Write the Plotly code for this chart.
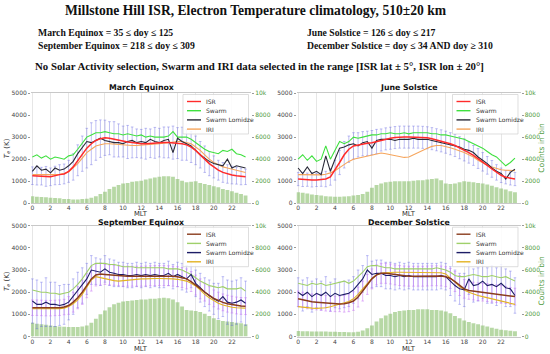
import plotly.graph_objects as go

# MLT bin centres (hours)
mlt = [0.0, 0.5, 1.0, 1.5, 2.0, 2.5, 3.0, 3.5, 4.0, 4.5, 5.0, 5.5, 6.0, 6.5, 7.0, 7.5,
       8.0, 8.5, 9.0, 9.5, 10.0, 10.5, 11.0, 11.5, 12.0, 12.5, 13.0, 13.5, 14.0, 14.5, 15.0, 15.5,
       16.0, 16.5, 17.0, 17.5, 18.0, 18.5, 19.0, 19.5, 20.0, 20.5, 21.0, 21.5, 22.0, 22.5, 23.0, 23.5]

# ---------------- March Equinox ----------------
me_isr = [1250, 1250, 1230, 1220, 1200, 1260, 1300, 1330, 1450, 1650, 1950, 2250, 2500, 2700, 2850, 2930,
          2970, 2950, 2900, 2850, 2800, 2780, 2760, 2720, 2700, 2700, 2720, 2740, 2750, 2760, 2760, 2750,
          2730, 2700, 2650, 2550, 2400, 2200, 2000, 1800, 1650, 1500, 1400, 1330, 1280, 1250, 1220, 1200]
me_swarm = [2100, 2200, 2050, 2150, 2000, 2100, 2050, 2000, 2150, 2200, 2450, 2700, 3000, 3100, 3200, 3200,
            3250, 3200, 3150, 3150, 3100, 3150, 3100, 3050, 3100, 3000, 3050, 3000, 3000, 3000, 3050, 3250,
            3000, 3000, 3000, 2900, 2750, 2600, 2450, 2350, 2300, 2250, 2400, 2350, 2450, 2250, 2200, 2100]
me_lom = [1450, 1700, 1500, 1550, 1380, 1600, 1500, 1550, 1700, 1900, 2250, 2500, 2800, 2750, 2850, 2950,
          2850, 2800, 2750, 2750, 2700, 2800, 2850, 2750, 2800, 2750, 2900, 2800, 2750, 2850, 2900, 2300,
          2950, 2800, 2700, 2600, 2400, 2200, 2050, 1900, 1800, 1750, 1700, 2000, 1600, 1700, 1650, 1600]
me_iri = [1300, 1300, 1280, 1280, 1280, 1300, 1320, 1350, 1420, 1600, 1800, 2050, 2300, 2450, 2600, 2650,
          2700, 2700, 2680, 2650, 2640, 2630, 2620, 2620, 2630, 2640, 2660, 2680, 2700, 2720, 2750, 2780,
          2800, 2800, 2750, 2700, 2550, 2400, 2200, 2000, 1850, 1750, 1650, 1600, 1550, 1500, 1450, 1400]
me_sd_isr = [400, 420, 400, 450, 400, 420, 450, 450, 500, 600, 700, 800, 900, 950, 900, 850,
             800, 750, 800, 750, 700, 750, 700, 650, 650, 700, 650, 700, 650, 700, 700, 750,
             700, 750, 700, 700, 650, 600, 600, 550, 500, 450, 450, 420, 400, 380, 380, 350]
me_counts = [650, 600, 580, 550, 500, 480, 450, 400, 380, 350, 350, 380, 420, 500, 650, 850,
             1050, 1300, 1500, 1650, 1800, 1850, 1950, 2000, 2050, 2150, 2250, 2350, 2400, 2450, 2450, 2400,
             2200, 2050, 1900, 1950, 2000, 1850, 1750, 1650, 1550, 1450, 1300, 1200, 1100, 950, 850, 700]

# ---------------- June Solstice ----------------
js_isr = [1100, 1080, 1070, 1060, 1060, 1070, 1100, 1200, 1500, 1850, 2200, 2450, 2600, 2650, 2700, 2720,
          2750, 2800, 2870, 2920, 2950, 2980, 3000, 3000, 3000, 3000, 3000, 2990, 2970, 2930, 2880, 2830,
          2770, 2700, 2620, 2520, 2420, 2300, 2170, 2030, 1880, 1720, 1560, 1400, 1270, 1180, 1130, 1100]
js_swarm = [2000, 2200, 1950, 2150, 1900, 2000, 2600, 2000, 2400, 2800, 2700, 2800, 3000, 2950, 3000, 3050,
            3100, 3100, 3150, 3150, 3200, 3150, 3150, 3200, 3150, 3200, 3200, 3200, 3200, 3150, 3150, 3100,
            3100, 3050, 3000, 2950, 2900, 2800, 2700, 2600, 2500, 2350, 2200, 2100, 1900, 1700, 1850, 2050]
js_lom = [1600, 1350, 1650, 1350, 1450, 1300, 2150, 1450, 2000, 2500, 2550, 2650, 2700, 2600, 2750, 2800,
          2500, 2850, 2900, 2900, 2900, 2850, 2900, 2900, 2900, 2950, 2900, 2900, 2900, 2850, 2800, 2750,
          2700, 2650, 2600, 2550, 2450, 2400, 2300, 2100, 1950, 1800, 1600, 1450, 1350, 1100, 1400, 1550]
js_iri = [1300, 1300, 1290, 1280, 1280, 1290, 1320, 1380, 1480, 1620, 1780, 1900, 2000, 2050, 2100, 2150,
          2200, 2250, 2280, 2250, 2200, 2150, 2100, 2080, 2100, 2200, 2300, 2420, 2500, 2580, 2620, 2620,
          2580, 2520, 2450, 2380, 2300, 2200, 2100, 1950, 1820, 1720, 1650, 1580, 1520, 1500, 1480, 1480]
js_sd_isr = [300, 320, 300, 320, 300, 300, 350, 380, 450, 550, 600, 600, 600, 550, 550, 550,
             550, 550, 500, 500, 500, 500, 500, 500, 500, 500, 500, 500, 500, 500, 500, 500,
             500, 500, 500, 500, 500, 480, 450, 450, 420, 400, 380, 350, 330, 300, 300, 300]
js_counts = [1000, 950, 880, 800, 750, 700, 650, 620, 600, 600, 620, 650, 700, 750, 850, 1050,
             1400, 1650, 1800, 1900, 1950, 2000, 2000, 2000, 2000, 2050, 2100, 2100, 2150, 2200, 2250, 2100,
             1800, 1750, 1800, 1900, 2000, 1950, 1900, 1850, 1800, 1700, 1600, 1450, 1350, 1250, 1100, 1000]

# ---------------- September Equinox ----------------
se_isr = [1300, 1300, 1290, 1280, 1280, 1290, 1300, 1330, 1400, 1550, 1750, 2000, 2300, 2600, 2780, 2820,
          2800, 2780, 2760, 2740, 2720, 2720, 2720, 2720, 2720, 2730, 2740, 2750, 2750, 2750, 2740, 2720,
          2700, 2660, 2600, 2480, 2320, 2150, 2000, 1850, 1720, 1620, 1540, 1480, 1440, 1400, 1380, 1370]
se_swarm = [2100, 2050, 2000, 2000, 1950, 1950, 1900, 1950, 2000, 2150, 2350, 2600, 2900, 3200, 3300, 3300,
            3300, 3250, 3250, 3200, 3150, 3150, 3150, 3100, 3100, 3100, 3100, 3100, 3100, 3100, 3050, 3050,
            3050, 3000, 2900, 2800, 2650, 2500, 2400, 2300, 2250, 2200, 2250, 2150, 2150, 2150, 2200, 2050]
se_lom = [1600, 1450, 1450, 1550, 1450, 1450, 1400, 1450, 1550, 1800, 2100, 2300, 2600, 3000, 2950, 2900,
          3050, 2900, 2850, 2800, 2800, 2750, 2750, 2800, 2750, 2800, 2750, 2800, 2750, 2750, 2850, 2700,
          2800, 2700, 2600, 2800, 2400, 2200, 2000, 1850, 1700, 1600, 1800, 1550, 1500, 1550, 1650, 1500]
se_iri = [1250, 1250, 1230, 1220, 1220, 1230, 1250, 1280, 1350, 1480, 1650, 1900, 2200, 2550, 2700, 2650,
          2600, 2550, 2520, 2500, 2520, 2550, 2580, 2600, 2600, 2600, 2620, 2620, 2620, 2620, 2620, 2600,
          2580, 2550, 2500, 2400, 2280, 2100, 1900, 1750, 1620, 1500, 1420, 1360, 1320, 1300, 1290, 1280]
se_sd_lom = [1000, 1100, 1000, 1100, 1000, 1000, 900, 900, 800, 800, 800, 800, 700, 650, 600, 600,
             600, 600, 600, 550, 550, 550, 550, 550, 550, 550, 550, 550, 550, 550, 550, 550,
             550, 600, 600, 600, 600, 650, 650, 700, 700, 800, 900, 1000, 1000, 1000, 1000, 1000]
se_sd_isr = [350, 350, 350, 350, 350, 350, 350, 350, 400, 450, 500, 550, 550, 550, 500, 500,
             450, 450, 450, 450, 450, 450, 450, 450, 450, 450, 450, 450, 450, 450, 450, 450,
             450, 450, 450, 450, 450, 450, 400, 400, 380, 380, 380, 380, 380, 380, 380, 380]
se_counts = [1250, 1150, 1100, 1050, 1000, 950, 900, 880, 850, 850, 850, 900, 1000, 1250, 1600, 2000,
             2350, 2650, 2900, 3050, 3150, 3200, 3250, 3300, 3350, 3350, 3400, 3400, 3450, 3500, 3450, 3350,
             3100, 2700, 2400, 2350, 2300, 2200, 2050, 1850, 1650, 1500, 1400, 1350, 1300, 1250, 1200, 1100]

# ---------------- December Solstice ----------------
ds_isr = [1700, 1650, 1600, 1570, 1550, 1530, 1500, 1480, 1470, 1470, 1480, 1520, 1600, 1780, 2050, 2350,
          2600, 2780, 2850, 2850, 2820, 2780, 2750, 2730, 2720, 2720, 2720, 2720, 2730, 2740, 2740, 2730,
          2700, 2620, 2480, 2300, 2150, 2080, 2050, 2020, 2000, 1980, 1950, 1930, 1900, 1870, 1830, 1800]
ds_swarm = [2400, 2350, 2300, 2400, 2350, 2400, 2300, 2350, 2400, 2450, 2500, 2400, 2500, 2700, 2900, 3150,
            3200, 3200, 3150, 3100, 3100, 3050, 3050, 3050, 3050, 3050, 3050, 3050, 3050, 3050, 3100, 3050,
            3000, 2900, 2750, 2700, 2700, 2750, 2800, 2750, 2700, 2700, 2750, 2700, 2650, 2700, 2600, 2500]
ds_lom = [2000, 1850, 2000, 1800, 1950, 1850, 2000, 1800, 1950, 1850, 1900, 1950, 2100, 2350, 2600, 3000,
          2800, 2850, 2850, 2750, 2750, 2700, 2750, 2700, 2750, 2700, 2700, 2700, 2700, 2700, 2700, 2750,
          2700, 2500, 2300, 2150, 2100, 2600, 2300, 2350, 2500, 2300, 2350, 2250, 2400, 2200, 2150, 1850]
ds_iri = [1350, 1320, 1300, 1280, 1270, 1280, 1300, 1340, 1400, 1450, 1500, 1580, 1700, 1900, 2150, 2400,
          2620, 2780, 2850, 2880, 2900, 2900, 2900, 2900, 2900, 2900, 2900, 2900, 2900, 2900, 2900, 2880,
          2820, 2650, 2450, 2250, 2100, 2000, 1920, 1850, 1800, 1750, 1700, 1650, 1600, 1550, 1500, 1450]
ds_sd_lom = [650, 700, 650, 700, 650, 650, 700, 650, 650, 600, 600, 600, 600, 650, 600, 650,
             600, 600, 600, 600, 600, 600, 600, 600, 600, 600, 600, 600, 600, 600, 600, 600,
             600, 650, 700, 700, 750, 700, 750, 750, 800, 800, 850, 850, 850, 850, 800, 800]
ds_sd_isr = [350, 350, 350, 350, 350, 350, 350, 350, 350, 350, 380, 400, 420, 450, 450, 450,
             450, 450, 450, 450, 450, 450, 450, 450, 450, 450, 450, 450, 450, 450, 450, 450,
             450, 450, 450, 450, 420, 400, 400, 400, 400, 400, 400, 400, 400, 380, 380, 380]
ds_counts = [500, 480, 470, 460, 460, 450, 440, 430, 420, 410, 400, 380, 380, 420, 550, 750,
             1000, 1350, 1650, 1900, 2050, 2200, 2300, 2350, 2400, 2400, 2450, 2450, 2450, 2400, 2400, 2350,
             2250, 2100, 1850, 1650, 1450, 1300, 1200, 1100, 1000, 900, 800, 700, 620, 560, 520, 480]

panel_titles = ["March Equinox", "June Solstice", "September Equinox", "December Solstice"]
legend_names = ["ISR", "Swarm", "Swarm Lomidze", "IRI"]
temp_ticks = [0, 1000, 2000, 3000, 4000, 5000]
count_ticks = [0, 2000, 4000, 6000, 8000, 10000]
mlt_ticks = [0, 2, 4, 6, 8, 10, 12, 14, 16, 18, 20, 22]

W, H = 550, 354
# panel pixel boxes: (left, right, top, bottom)
boxes = [(31, 251, 93, 203.3), (296.7, 520.5, 93, 203.3),
         (31, 251, 225.7, 336.5), (296.7, 520.5, 225.7, 336.5)]
title_y = [87, 87, 222.6, 222.6]
mlt_y = [214.1, 214.1, 348.5, 348.5]

top_colors = {"isr": "#ff2b2b", "swarm": "#3fe03f", "lom": "#2a2a38", "iri": "#f6a55c"}
bot_colors = {"isr": "#8a3c1c", "swarm": "#9fd06a", "lom": "#1d1d66", "iri": "#e2b323"}

panels = [
    dict(isr=me_isr, swarm=me_swarm, lom=me_lom, iri=me_iri, counts=me_counts,
         errs=[("isr", me_sd_isr, "rgba(100,100,225,0.45)")], col=top_colors),
    dict(isr=js_isr, swarm=js_swarm, lom=js_lom, iri=js_iri, counts=js_counts,
         errs=[("isr", js_sd_isr, "rgba(100,100,225,0.45)")], col=top_colors),
    dict(isr=se_isr, swarm=se_swarm, lom=se_lom, iri=se_iri, counts=se_counts,
         errs=[("lom", se_sd_lom, "rgba(90,90,230,0.42)"), ("isr", se_sd_isr, "rgba(195,110,245,0.55)")],
         col=bot_colors),
    dict(isr=ds_isr, swarm=ds_swarm, lom=ds_lom, iri=ds_iri, counts=ds_counts,
         errs=[("lom", ds_sd_lom, "rgba(90,90,230,0.42)"), ("isr", ds_sd_isr, "rgba(195,110,245,0.55)")],
         col=bot_colors),
]

fig = go.Figure()
layout = {}
annotations = []
shapes = []


def px(x):
    return x / W


def py(y):
    return 1 - y / H


def note(text, x, y, size, color="#111", family="DejaVu Sans", xanchor="center", angle=0):
    annotations.append(dict(text=text, x=px(x), y=py(y), xref="paper", yref="paper",
                            showarrow=False, xanchor=xanchor, yanchor="middle", textangle=angle,
                            font=dict(size=size, color=color, family=family)))


GREEN = "#4f9a3c"

for i, (p, box) in enumerate(zip(panels, boxes)):
    n = i + 1
    xname = "x" if n == 1 else f"x{n}"
    yc = "y" if n == 1 else f"y{2 * n - 1}"
    yt = f"y{2 * n}"
    xkey = "xaxis" if n == 1 else f"xaxis{n}"
    yckey = "yaxis" if n == 1 else f"yaxis{2 * n - 1}"
    ytkey = f"yaxis{2 * n}"
    l, r, t, b = box

    # counts bars (underlying axis, right side)
    fig.add_trace(go.Bar(x=mlt, y=p["counts"], width=0.42, xaxis=xname, yaxis=yc,
                         marker=dict(color="rgba(135,190,105,0.6)", line=dict(width=0)),
                         showlegend=False, hoverinfo="skip"))
    # error bars
    for key, sd, ecol in p["errs"]:
        fig.add_trace(go.Scatter(x=mlt, y=p[key], mode="markers", xaxis=xname, yaxis=yt,
                                 marker=dict(size=1, opacity=0),
                                 error_y=dict(type="data", array=sd, visible=True, color=ecol,
                                              thickness=0.9, width=1.3),
                                 showlegend=False, hoverinfo="skip"))
    c = p["col"]
    for key, w in [("iri", 1.1), ("swarm", 1.1), ("lom", 1.1), ("isr", 1.5)]:
        fig.add_trace(go.Scatter(x=mlt, y=p[key], mode="lines", xaxis=xname, yaxis=yt,
                                 line=dict(color=c[key], width=w), showlegend=False))

    layout[xkey] = dict(domain=[px(l), px(r)], anchor=yc, range=[-0.15, 24.1], automargin=False,
                        tickvals=mlt_ticks, ticks="", ticklabelstandoff=-1,
                        tickfont=dict(size=6, color="#444", family="DejaVu Sans"),
                        showgrid=True, gridcolor="#e6e6e6", gridwidth=0.8,
                        showline=True, linecolor="#c8c8c8", linewidth=0.8, mirror=True,
                        zeroline=False)
    layout[yckey] = dict(domain=[py(b), py(t)], anchor=xname, side="right", range=[0, 10000],
                         automargin=False, tickvals=count_ticks, ticks="outside", ticklen=2,
                         tickcolor="#999", tickfont=dict(size=6, color=GREEN, family="DejaVu Sans"),
                         showgrid=False, zeroline=False, showline=False)
    layout[ytkey] = dict(overlaying=yc, anchor=xname, side="left", range=[0, 5000], automargin=False,
                         tickvals=temp_ticks, ticks="outside", ticklen=2, tickcolor="#999",
                         tickfont=dict(size=6, color="#444", family="DejaVu Sans"),
                         showgrid=False, zeroline=False, showline=False)

    # axis titles as annotations
    note("MLT", (l + r) / 2, mlt_y[i], 6.8, color="#333")
    if n in (1, 3):
        note("<i>T</i><sub><i>e</i></sub> (K)", 7, (t + b) / 2, 7, color="#333", angle=-90)
    else:
        note("Counts in bin", 541.5, (t + b) / 2, 7.5, color=GREEN, angle=-90)

    # panel title
    note(f"<b>{panel_titles[i]}</b>", (l + r) / 2, title_y[i], 7.8, color="#111")

    # legend box (manual)
    lx0, lx1 = r - 68, r - 2.5
    ly0, ly1 = t + 1.5, t + 41
    shapes.append(dict(type="rect", xref="paper", yref="paper", x0=px(lx0), x1=px(lx1),
                       y0=py(ly1), y1=py(ly0), fillcolor="rgba(255,255,255,0.85)",
                       line=dict(color="#d0d0d0", width=0.7)))
    for k, (key, name) in enumerate(zip(["isr", "swarm", "lom", "iri"], legend_names)):
        yy = ly0 + 7 + k * 9.2
        shapes.append(dict(type="line", xref="paper", yref="paper", x0=px(lx0 + 4), x1=px(lx0 + 18),
                           y0=py(yy), y1=py(yy), line=dict(color=c[key], width=1.4)))
        note(name, lx0 + 21, yy, 6, color="#333", xanchor="left")

serif = "Liberation Serif"
note("<b>Millstone Hill ISR, Electron Temperature climatology, 510±20 km</b>", 256, 10.5, 13.6, family=serif)
note("<b>March Equinox = 35 ≤ doy ≤ 125</b>", 36, 32, 9.7, family=serif, xanchor="left")
note("<b>June Solstice = 126 ≤ doy ≤ 217</b>", 305, 32, 9.7, family=serif, xanchor="left")
note("<b>September Equinox = 218 ≤ doy ≤ 309</b>", 36, 45, 9.7, family=serif, xanchor="left")
note("<b>December Solstice = doy ≤ 34 AND doy ≥ 310</b>", 305, 45, 9.7, family=serif, xanchor="left")
note("<b>No Solar Activity selection, Swarm and IRI data selected in the range [ISR lat ± 5°, ISR lon ± 20°]</b>",
     259.5, 66, 10.8, family=serif)

fig.update_layout(width=W, height=H, margin=dict(l=0, r=0, t=0, b=0),
                  paper_bgcolor="white", plot_bgcolor="white", showlegend=False,
                  barmode="overlay", annotations=annotations, shapes=shapes, **layout)

fig.write_html("out.html", config={"displayModeBar": False},
               post_script="document.body.style.margin='0px';")
